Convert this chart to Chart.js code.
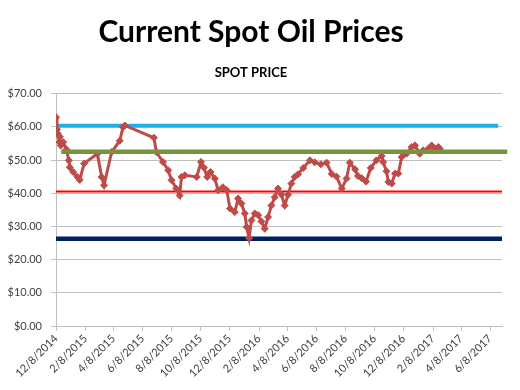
<!DOCTYPE html>
<html>
<head>
<meta charset="utf-8">
<script src="https://cdn.jsdelivr.net/npm/chart.js@4/dist/chart.umd.min.js"></script>
<style>
  body { margin: 0; background: #fff; }
  #wrap { width: 520px; height: 390px; }
</style>
</head>
<body>
<div id="wrap"><canvas id="oil-chart" width="520" height="390"></canvas></div>
<script>
// Spot price readings (M/D/YYYY)
const spotDates = [
  '12/8/2014', '12/10/2014', '12/12/2014', '12/15/2014', '12/16/2014', '12/18/2014', '12/23/2014', '12/30/2014',
  '1/4/2015', '1/6/2015', '1/13/2015', '1/22/2015', '1/27/2015', '2/5/2015', '3/5/2015', '3/14/2015', '3/19/2015',
  '4/4/2015', '4/21/2015', '4/28/2015', '5/2/2015', '7/2/2015', '7/7/2015', '7/21/2015', '8/1/2015', '8/8/2015',
  '8/18/2015', '8/25/2015', '8/29/2015', '9/5/2015', '9/30/2015', '10/9/2015', '10/15/2015', '10/22/2015',
  '10/29/2015', '11/7/2015', '11/14/2015', '11/24/2015', '12/2/2015', '12/9/2015', '12/19/2015', '12/26/2015',
  '1/2/2016', '1/9/2016', '1/13/2016', '1/18/2016', '1/23/2016', '1/30/2016', '2/6/2016', '2/13/2016', '2/20/2016',
  '2/27/2016', '3/5/2016', '3/12/2016', '3/19/2016', '3/26/2016', '4/2/2016', '4/9/2016', '4/16/2016', '4/23/2016',
  '4/30/2016', '5/11/2016', '5/25/2016', '6/4/2016', '6/17/2016', '6/29/2016', '7/10/2016', '7/20/2016', '7/31/2016',
  '8/10/2016', '8/17/2016', '8/28/2016', '9/3/2016', '9/11/2016', '9/20/2016', '9/30/2016', '10/12/2016',
  '10/23/2016', '10/26/2016', '11/2/2016', '11/6/2016', '11/13/2016', '11/20/2016', '11/27/2016', '12/4/2016',
  '12/14/2016', '12/25/2016', '1/1/2017', '1/11/2017', '1/18/2017', '1/29/2017', '2/5/2017', '2/12/2017',
  '2/19/2017', '2/22/2017'
];
const spotPrices = [
  62.9, 59.2, 57.9, 55.4, 57.0, 54.4, 55.4, 53.2,
  49.9, 47.8, 46.4, 44.9, 44.0, 48.9, 51.9, 44.9, 42.4,
  52.4, 55.8, 59.9, 60.4, 56.7, 52.4, 49.4, 46.9, 43.9,
  41.4, 39.3, 44.9, 45.4, 44.9, 49.4, 47.7, 44.9,
  46.4, 44.4, 40.9, 41.8, 40.9, 35.4, 34.3, 38.4,
  36.9, 33.9, 29.8, 26.5, 31.8, 33.9, 33.4, 31.5, 29.3,
  32.8, 36.3, 38.8, 41.4, 39.6, 36.3, 39.5, 42.9, 44.9,
  45.7, 47.6, 49.9, 49.3, 48.7, 49.2, 45.8, 45.0, 41.4,
  44.4, 49.2, 47.2, 45.2, 44.5, 43.5, 47.6, 49.9,
  51.2, 49.4, 46.6, 43.4, 42.9, 45.9, 45.9, 50.9,
  51.9, 53.9, 54.4, 51.9, 52.9, 53.4, 54.4, 53.4,
  53.9, 53.4
];

// Reference levels: [start date, end date] and price
const highDates = ['12/8/2014', '6/25/2017'];
const highLevel = 60.3;
const avgDates = ['12/19/2014', '7/14/2017'];
const avgLevel = 52.5;
const supportDates = ['12/8/2014', '7/3/2017'];
const supportLevel = 40.5;
const lowDates = ['12/8/2014', '7/3/2017'];
const lowLevel = 26.3;

// Axis
const axisStart = '12/8/2014';
const axisEnd = '7/3/2017';
const tickDates = [
  '12/8/2014', '2/8/2015', '4/8/2015', '6/8/2015', '8/8/2015', '10/8/2015', '12/8/2015', '2/8/2016',
  '4/8/2016', '6/8/2016', '8/8/2016', '10/8/2016', '12/8/2016', '2/8/2017', '4/8/2017', '6/8/2017'
];
const priceTicks = [0, 10, 20, 30, 40, 50, 60, 70];

function toTime(s) {
  const [m, d, y] = s.split('/').map(Number);
  return Date.UTC(y, m - 1, d);
}

function formatDate(t) {
  const dt = new Date(t);
  return (dt.getUTCMonth() + 1) + '/' + dt.getUTCDate() + '/' + dt.getUTCFullYear();
}

function levelLine(dates, level, color, width) {
  return {
    data: dates.map(d => ({ x: toTime(d), y: level })),
    borderColor: color,
    backgroundColor: color,
    borderWidth: width,
    pointRadius: 0,
    borderCapStyle: 'butt',
    clip: false
  };
}

Chart.defaults.font.family = 'Lato, "Open Sans", sans-serif';
Chart.defaults.color = '#404040';

const ctx = document.getElementById('oil-chart').getContext('2d');

new Chart(ctx, {
  type: 'line',
  data: {
    datasets: [
      levelLine(avgDates, avgLevel, '#77933C', 4.5),
      {
        data: spotDates.map((d, i) => ({ x: toTime(d), y: spotPrices[i] })),
        borderColor: '#BE4B48',
        backgroundColor: '#BE4B48',
        borderWidth: 3,
        pointStyle: 'rectRot',
        pointRadius: 3.5,
        pointBorderWidth: 1,
        tension: 0
      },
      levelLine(highDates, highLevel, '#1EAEE8', 4),
      levelLine(supportDates, supportLevel, '#FF0000', 2),
      levelLine(lowDates, lowLevel, '#002060', 4.5)
    ]
  },
  options: {
    responsive: false,
    animation: false,
    layout: {
      padding: { left: 0, right: 18, top: 0, bottom: 0 }
    },
    scales: {
      x: {
        type: 'linear',
        min: toTime(axisStart),
        max: toTime(axisEnd),
        afterBuildTicks: function(scale) {
          scale.ticks = tickDates.map(d => ({ value: toTime(d) }));
        },
        afterFit: function(scale) {
          scale.height = 64;
        },
        grid: {
          drawOnChartArea: false,
          color: '#BFBFBF',
          tickLength: 5
        },
        border: { color: '#BFBFBF' },
        ticks: {
          autoSkip: false,
          maxRotation: 45,
          minRotation: 45,
          padding: 1,
          font: { size: 11 },
          callback: function(value) {
            return formatDate(value);
          }
        }
      },
      y: {
        min: 0,
        max: 70,
        afterBuildTicks: function(scale) {
          scale.ticks = priceTicks.map(v => ({ value: v }));
        },
        afterFit: function(scale) {
          scale.width = 56;
        },
        grid: {
          color: '#BFBFBF',
          tickLength: 5
        },
        border: { color: '#BFBFBF' },
        ticks: {
          padding: 9,
          font: { size: 11 },
          callback: function(value) {
            return '$' + value.toFixed(2);
          }
        }
      }
    },
    plugins: {
      legend: { display: false },
      tooltip: { enabled: false },
      title: {
        display: true,
        text: 'Current Spot Oil Prices',
        color: '#000',
        font: { size: 30, weight: 'bold' },
        padding: { top: 14, bottom: 13 }
      },
      subtitle: {
        display: true,
        text: 'SPOT PRICE',
        color: '#000',
        font: { size: 13, weight: 'bold' },
        padding: { top: 2, bottom: 13 }
      }
    }
  }
});
</script>
</body>
</html>
